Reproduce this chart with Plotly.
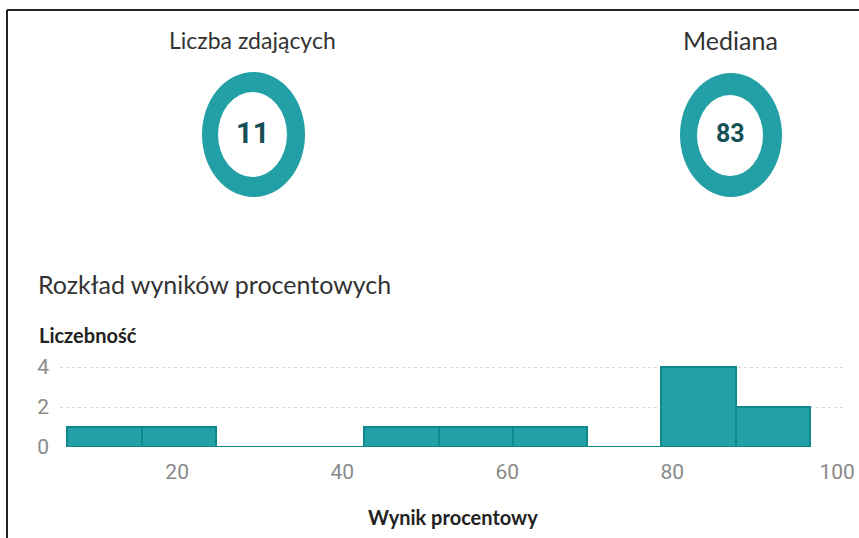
import plotly.graph_objects as go

# ---- data ----
bin_left = [6.7, 15.7, 24.7, 33.7, 42.7, 51.7, 60.7, 69.7, 78.7, 87.7]
bin_width = 9.0
counts = [1, 1, 0, 0, 1, 1, 1, 0, 4, 2]
x_ticks = [20, 40, 60, 80, 100]
y_ticks = [0, 2, 4]
kpi_labels = ["Liczba zdających", "Mediana"]
kpi_values = ["11", "83"]
chart_title = "Rozkład wyników procentowych"
y_title = "Liczebność"
x_title = "Wynik procentowy"

W, H = 859, 538
L, R, T, B = 60, 16, 357, 91
PW = W - L - R
PH = H - T - B


def px(x):
    return (x - L) / PW


def py(y):
    return (H - B - y) / PH


TEAL = "#22a0a6"
TEAL_DARK = "#0f878d"

fig = go.Figure()
fig.add_trace(go.Bar(
    x=[b + bin_width / 2 for b in bin_left],
    y=counts,
    width=[bin_width] * len(counts),
    marker=dict(color=TEAL, line=dict(color=TEAL_DARK, width=2)),
    hoverinfo="x+y",
    showlegend=False,
))

shapes = []
# frame lines (top and left)
shapes.append(dict(type="line", xref="paper", yref="paper",
                   x0=px(7), x1=px(W + 5), y0=py(10), y1=py(10),
                   line=dict(color="#222222", width=2)))
shapes.append(dict(type="line", xref="paper", yref="paper",
                   x0=px(7), x1=px(7), y0=py(10), y1=py(H + 5),
                   line=dict(color="#222222", width=2)))

# donut rings (ellipses)
rings = [
    ((202, 305, 72, 197), (218, 287, 92, 177)),
    ((680, 782, 73, 197), (697, 763, 95, 176)),
]
for outer, inner in rings:
    shapes.append(dict(type="circle", xref="paper", yref="paper",
                       x0=px(outer[0]), x1=px(outer[1]), y0=py(outer[3]), y1=py(outer[2]),
                       fillcolor=TEAL, line=dict(width=0), layer="above"))
    shapes.append(dict(type="circle", xref="paper", yref="paper",
                       x0=px(inner[0]), x1=px(inner[1]), y0=py(inner[3]), y1=py(inner[2]),
                       fillcolor="white", line=dict(width=0), layer="above"))

annotations = []
kpi_x = [252, 730]
for lab, val, cx, lsize, vsize in zip(kpi_labels, kpi_values, kpi_x, [23, 25], [29, 25]):
    annotations.append(dict(text=lab, xref="paper", yref="paper", x=px(cx), y=py(40),
                            xanchor="center", yanchor="middle", showarrow=False,
                            font=dict(family="Lato", size=lsize, color="#333333")))
    annotations.append(dict(text="<b>" + val + "</b>", xref="paper", yref="paper", x=px(cx), y=py(133),
                            xanchor="center", yanchor="middle", showarrow=False,
                            font=dict(family="Roboto", size=vsize, color="#174f56")))

annotations.append(dict(text=chart_title, xref="paper", yref="paper", x=px(36), y=py(284),
                        xanchor="left", yanchor="middle", showarrow=False,
                        font=dict(family="Lato", size=25, color="#333333")))
annotations.append(dict(text="<b>" + y_title + "</b>", xref="paper", yref="paper", x=px(37), y=py(335),
                        xanchor="left", yanchor="middle", showarrow=False,
                        font=dict(family="Lato", size=20, color="#222222")))
annotations.append(dict(text="<b>" + x_title + "</b>", xref="paper", yref="paper", x=px(453), y=py(517),
                        xanchor="center", yanchor="middle", showarrow=False,
                        font=dict(family="Lato", size=20, color="#222222")))

fig.update_layout(
    width=W, height=H,
    margin=dict(l=L, r=R, t=T, b=B),
    paper_bgcolor="white", plot_bgcolor="white",
    shapes=shapes, annotations=annotations,
    bargap=0,
    xaxis=dict(range=[5.8, 100.7], tickvals=x_ticks, showgrid=False, zeroline=False,
               showline=False, ticks="", ticklabelstandoff=10, automargin=False,
               tickfont=dict(family="Roboto", size=21, color="#8a8a8a")),
    yaxis=dict(range=[0, 4.5], tickvals=y_ticks, showgrid=True, gridcolor="#d6d6d6",
               griddash="dot", gridwidth=1, zeroline=False, showline=False, ticks="",
               ticklabelstandoff=10, automargin=False,
               tickfont=dict(family="Roboto", size=21, color="#8a8a8a")),
)

fig.write_html("out.html",
               config={"displayModeBar": False},
               post_script="document.body.style.margin='0';document.body.style.overflow='hidden';")
